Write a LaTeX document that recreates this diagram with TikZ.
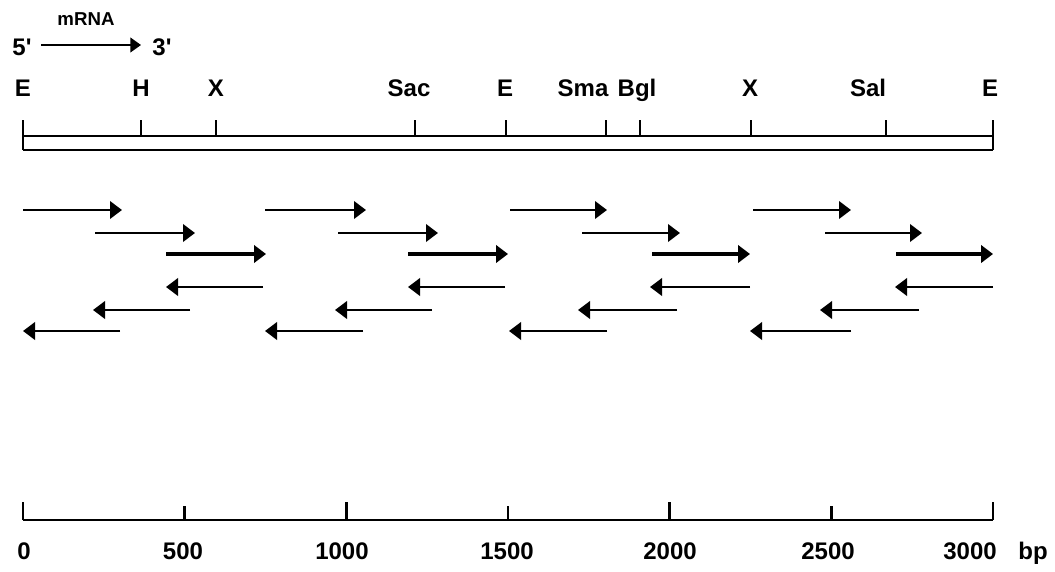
\documentclass[tikz,border=0pt]{standalone}
\usepackage{fontspec}
\setmainfont{Liberation Sans}[Ligatures=TeXOff]
\usetikzlibrary{arrows.meta}
\begin{document}
\begin{tikzpicture}[x=0.75pt,y=-0.75pt,
  lbl/.style={font=\fontsize{18}{20}\selectfont\bfseries, inner sep=0pt, anchor=base},
  small/.style={font=\fontsize{14}{16}\selectfont\bfseries, inner sep=0pt, anchor=base},
  bar/.style={line width=2pt},
  fwd/.style={line width=2pt, -{Triangle[length=9pt,width=13pt]}},
  fwdthick/.style={line width=2.8pt, -{Triangle[length=9pt,width=13pt]}},
  hdr/.style={line width=1.5pt, -{Triangle[length=8pt,width=11pt]}}]
\useasboundingbox (0,0) rectangle (1055,571);

% mRNA orientation
\node[small] (mrna) at (86,25) {mRNA};
\node[lbl] (p5) at (22,55) {5'};
\node[lbl] (p3) at (162,55) {3'};
\coordinate (h1) at (41,45);
\coordinate (h2) at (141,45);
\draw[hdr] (h1) -- (h2);

% restriction map
\foreach \n/\x/\t/\lx in {e1/23/E/23, h/141/H/141, x1/216/X/216, sac/415/Sac/409,
    e2/506/E/505, sma/606/Sma/583, bgl/640/Bgl/637, x2/751/X/750, sal/886/Sal/868, e3/993/E/990}{
  \node[lbl] (l\n) at (\lx,96) {\t};
  \coordinate (s\n) at (\x,120);
  \coordinate (b\n) at (\x,136);
}
\coordinate (ce1) at (23,150);
\coordinate (ce3) at (993,150);
\draw[bar] (be1) -- (be3);
\draw[bar] (ce1) -- (ce3);
\draw[bar] (se1) -- (ce1);
\draw[bar] (se3) -- (ce3);
\foreach \n in {h,x1,sac,e2,sma,bgl,x2,sal}{
  \draw[bar] (s\n) -- (b\n);
}

% sequenced fragments, forward strand
\foreach \i/\a/\b/\y/\s in {1/23/122/210/fwd, 2/265/366/210/fwd, 3/510/607/210/fwd, 4/753/851/210/fwd,
    5/95/195/233/fwd, 6/338/438/233/fwd, 7/582/680/233/fwd, 8/825/922/233/fwd,
    9/166/266/254/fwdthick, 10/408/508/254/fwdthick, 11/652/750/254/fwdthick, 12/896/993/254/fwdthick}{
  \coordinate (fa\i) at (\a,\y);
  \coordinate (fb\i) at (\b,\y);
  \draw[\s] (fa\i) -- (fb\i);
}

% sequenced fragments, reverse strand
\foreach \i/\a/\b/\y in {1/263/166/287, 2/505/408/287, 3/750/650/287, 4/993/895/287,
    5/190/93/310, 6/432/335/310, 7/677/578/310, 8/919/820/310,
    9/120/23/331, 10/363/265/331, 11/607/509/331, 12/851/750/331}{
  \coordinate (ra\i) at (\a,\y);
  \coordinate (rb\i) at (\b,\y);
  \draw[fwd] (ra\i) -- (rb\i);
}

% size scale
\coordinate (z0) at (23,520);
\coordinate (z3) at (993,520);
\draw[bar] (z0) -- (z3);
\foreach \v/\tt/\lx in {0/502/24,500/506/183,1000/502/342,1500/506/507,2000/502/670,2500/506/828,3000/502/970}{
  \pgfmathsetmacro{\xx}{23+\v/3000*970}
  \coordinate (tk\v) at (\xx,\tt);
  \coordinate (tb\v) at (\xx,520);
  \draw[bar] (tk\v) -- (tb\v);
  \node[lbl] (n\v) at (\lx,559) {\v};
}
\node[lbl] (bp) at (1033,559) {bp};
\end{tikzpicture}
\end{document}
